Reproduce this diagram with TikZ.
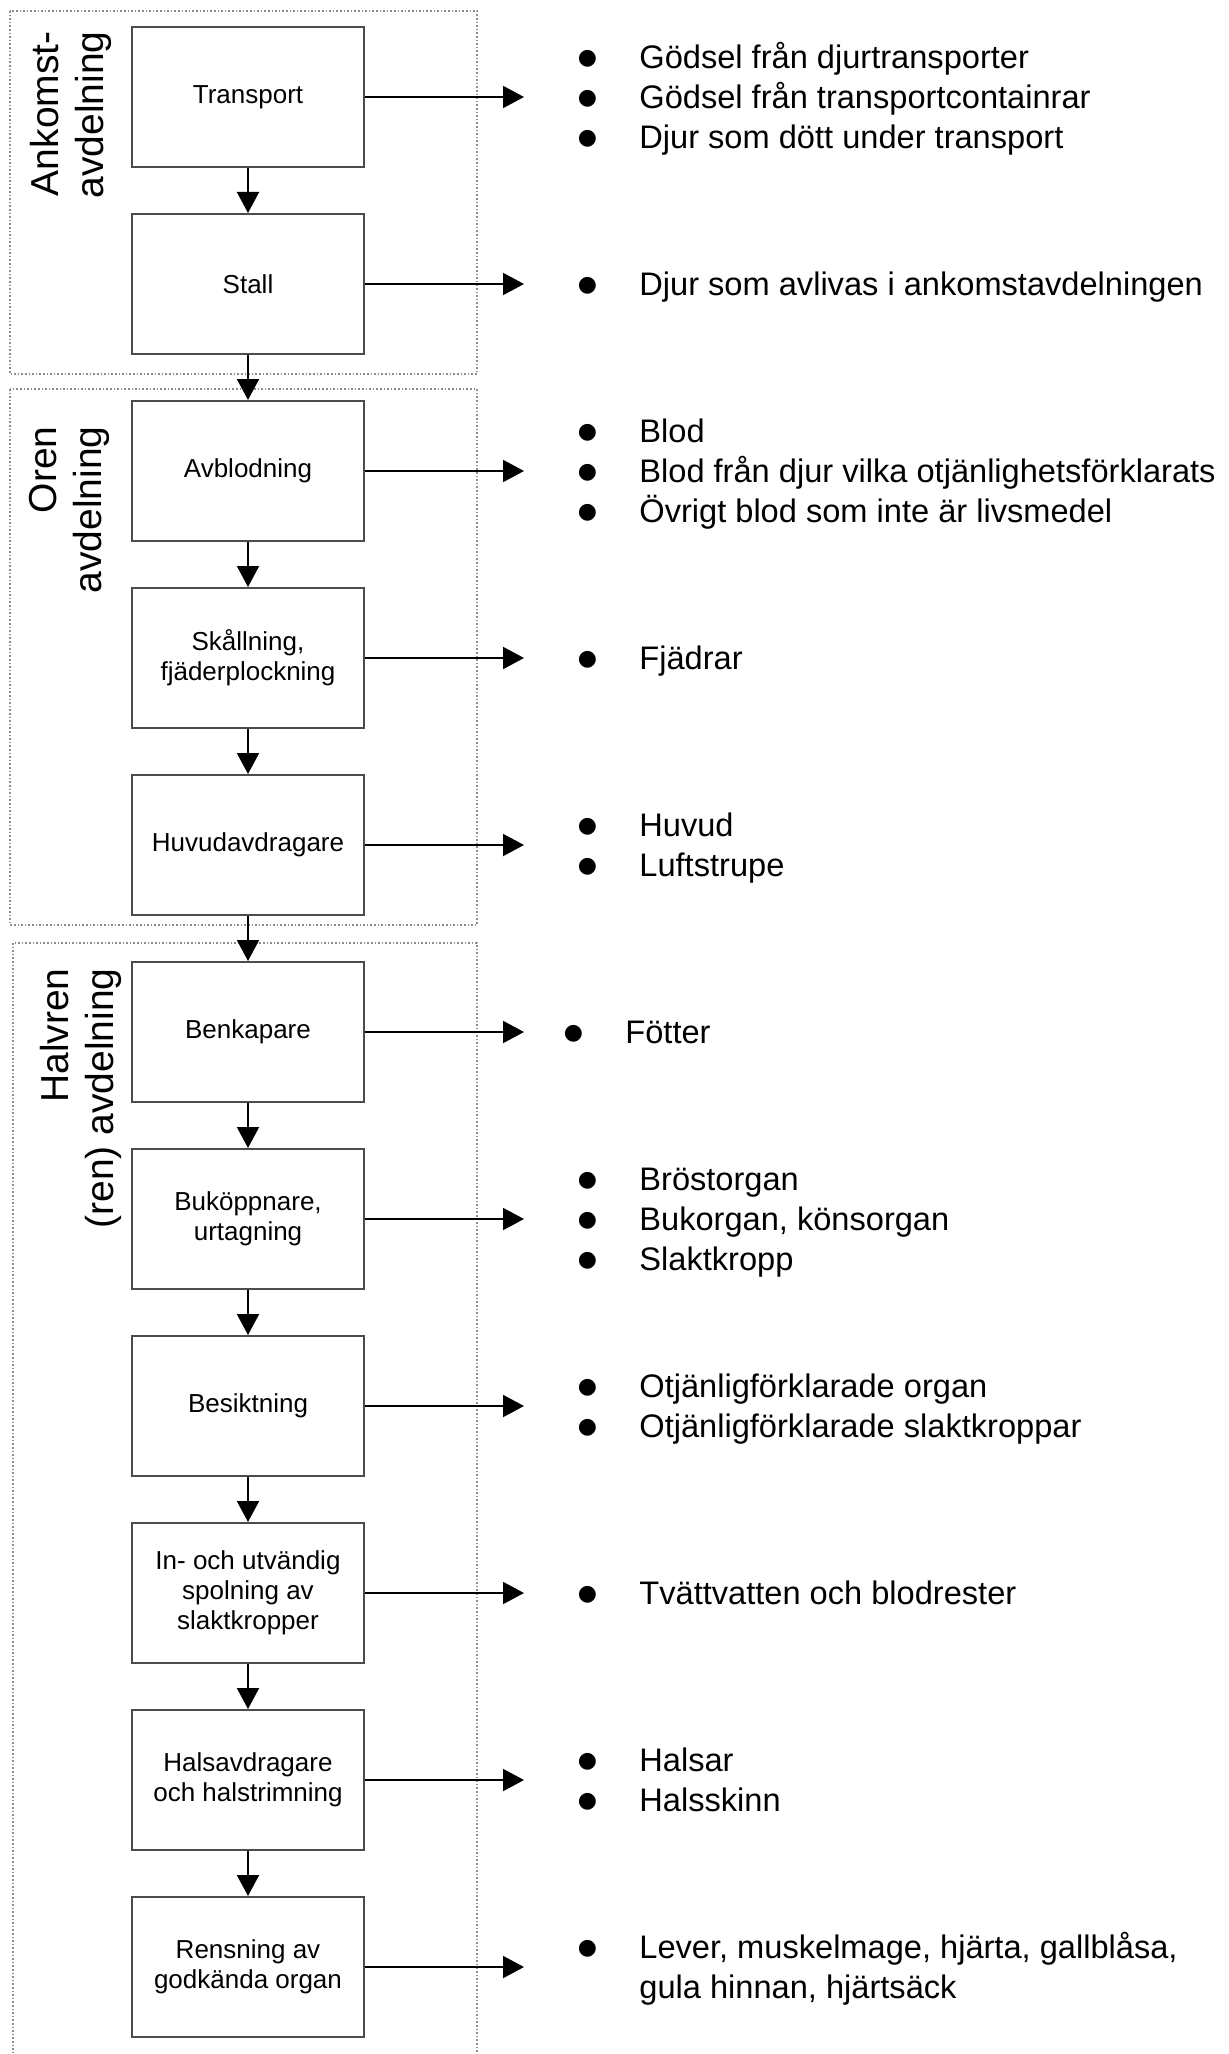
\documentclass[tikz,border=0pt]{standalone}
\usepackage{fontspec}
\setmainfont{Liberation Sans}
\newfontfamily\symfont{DejaVu Sans}
\usepackage{tikz}
\usetikzlibrary{arrows.meta, positioning}

\newcommand{\wastelist}[1]{\begin{tabular}{@{}p{29pt}@{}l@{}}#1\end{tabular}}
\newcommand{\blt}{\makebox[6pt]{\raisebox{2pt}{\symfont\fontsize{11}{12}\selectfont ●}}}

\begin{document}
\begin{tikzpicture}[
    x=0.5pt, y=-0.5pt,
    node distance=22.5pt,
    every node/.style={inner sep=0pt},
    stage/.style={draw=black!70, line width=1pt, minimum width=116pt,
                  minimum height=70pt, align=center, font=\fontsize{13}{15}\selectfont},
    waste/.style={yshift=-1.7pt, font=\fontsize{16.3}{20}\selectfont},
    zone/.style={draw=black!45, line width=0.8pt, densely dotted},
    zonelabel/.style={rotate=90, anchor=north east, align=right,
                      font=\fontsize{19.5}{22.5}\selectfont},
    flow/.style={-{Triangle[length=10.5pt, width=11pt]}, line width=1pt}
]
\useasboundingbox (0,0) rectangle (1228,2054);
\draw[zone] (10,11) rectangle (477,374);
\draw[zone] (10,389) rectangle (477,925);
\draw[zone] (13,943) rectangle (477,2070);

\node[zonelabel] (ank) at (30,31) {Ankomst-\\avdelning};
\node[zonelabel] (oren) at (29,426) {Oren\\avdelning};
\node[zonelabel] (halv) at (40,968) {Halvren\\(ren) avdelning};

\node[stage] (tr) at (248,97) {Transport};
\node[stage, below=of tr] (st) {Stall};
\node[stage, below=of st] (ab) {Avblodning};
\node[stage, below=of ab] (sk) {Skållning,\\fjäderplockning};
\node[stage, below=of sk] (hu) {Huvudavdragare};
\node[stage, below=of hu] (bk) {Benkapare};
\node[stage, below=of bk] (bu) {Buköppnare,\\urtagning};
\node[stage, below=of bu] (be) {Besiktning};
\node[stage, below=of be] (sp) {In- och utvändig\\spolning av\\slaktkropper};
\node[stage, below=of sp] (ha) {Halsavdragare\\och halstrimning};
\node[stage, below=of ha] (re) {Rensning av\\godkända organ};

\coordinate[right=79.5pt of tr] (tr-out);
\coordinate[right=79.5pt of st] (st-out);
\coordinate[right=79.5pt of ab] (ab-out);
\coordinate[right=79.5pt of sk] (sk-out);
\coordinate[right=79.5pt of hu] (hu-out);
\coordinate[right=79.5pt of bk] (bk-out);
\coordinate[right=79.5pt of bu] (bu-out);
\coordinate[right=79.5pt of be] (be-out);
\coordinate[right=79.5pt of sp] (sp-out);
\coordinate[right=79.5pt of ha] (ha-out);
\coordinate[right=79.5pt of re] (re-out);

\node[waste, right=28.5pt of tr-out] (tr-list) {\wastelist{%
    \blt & Gödsel från djurtransporter\\
    \blt & Gödsel från transportcontainrar\\
    \blt & Djur som dött under transport}};
\node[waste, right=28.5pt of st-out] (st-list) {\wastelist{%
    \blt & Djur som avlivas i ankomstavdelningen}};
\node[waste, right=28.5pt of ab-out] (ab-list) {\wastelist{%
    \blt & Blod\\
    \blt & Blod från djur vilka otjänlighetsförklarats\\
    \blt & Övrigt blod som inte är livsmedel}};
\node[waste, right=28.5pt of sk-out] (sk-list) {\wastelist{%
    \blt & Fjädrar}};
\node[waste, right=28.5pt of hu-out] (hu-list) {\wastelist{%
    \blt & Huvud\\
    \blt & Luftstrupe}};
\node[waste, right=21.5pt of bk-out] (bk-list) {\wastelist{%
    \blt & Fötter}};
\node[waste, right=28.5pt of bu-out] (bu-list) {\wastelist{%
    \blt & Bröstorgan\\
    \blt & Bukorgan, könsorgan\\
    \blt & Slaktkropp}};
\node[waste, right=28.5pt of be-out] (be-list) {\wastelist{%
    \blt & Otjänligförklarade organ\\
    \blt & Otjänligförklarade slaktkroppar}};
\node[waste, right=28.5pt of sp-out] (sp-list) {\wastelist{%
    \blt & Tvättvatten och blodrester}};
\node[waste, right=28.5pt of ha-out] (ha-list) {\wastelist{%
    \blt & Halsar\\
    \blt & Halsskinn}};
\node[waste, right=28.5pt of re-out] (re-list) {\wastelist{%
    \blt & Lever, muskelmage, hjärta, gallblåsa,\\
         & gula hinnan, hjärtsäck}};

\draw[flow] (tr) -- (st);
\draw[flow] (st) -- (ab);
\draw[flow] (ab) -- (sk);
\draw[flow] (sk) -- (hu);
\draw[flow] (hu) -- (bk);
\draw[flow] (bk) -- (bu);
\draw[flow] (bu) -- (be);
\draw[flow] (be) -- (sp);
\draw[flow] (sp) -- (ha);
\draw[flow] (ha) -- (re);

\draw[flow] (tr) -- (tr-out);
\draw[flow] (st) -- (st-out);
\draw[flow] (ab) -- (ab-out);
\draw[flow] (sk) -- (sk-out);
\draw[flow] (hu) -- (hu-out);
\draw[flow] (bk) -- (bk-out);
\draw[flow] (bu) -- (bu-out);
\draw[flow] (be) -- (be-out);
\draw[flow] (sp) -- (sp-out);
\draw[flow] (ha) -- (ha-out);
\draw[flow] (re) -- (re-out);
\end{tikzpicture}
\end{document}
